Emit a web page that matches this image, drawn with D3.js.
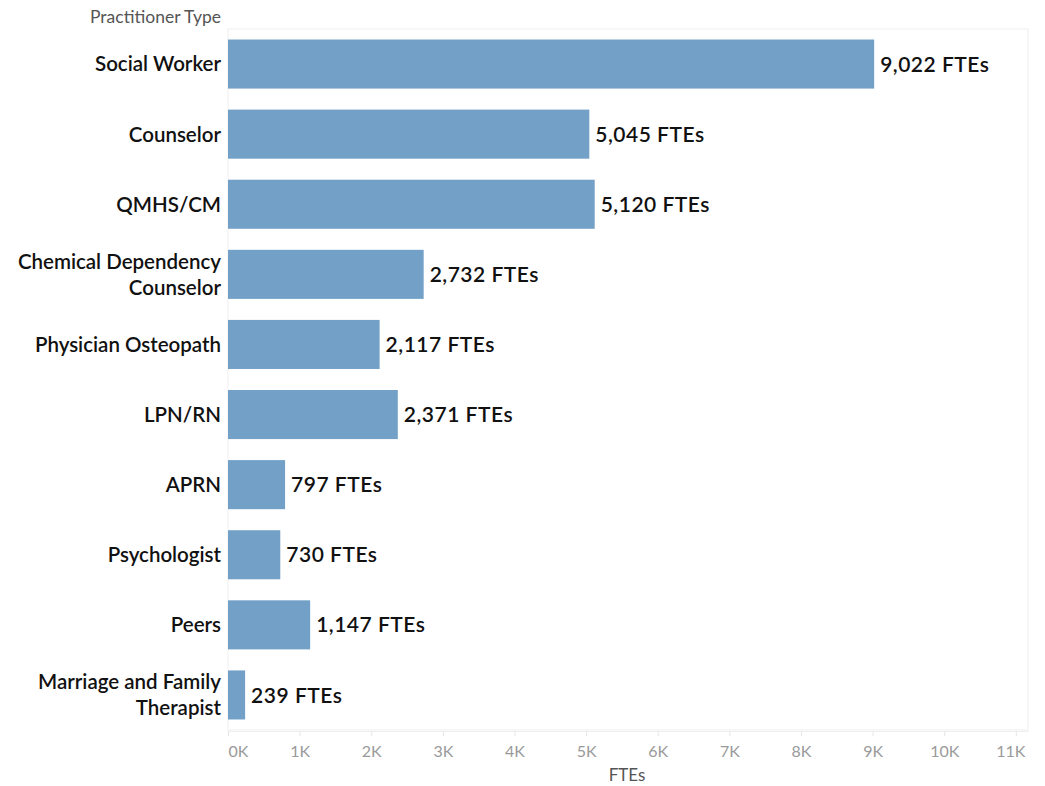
<!DOCTYPE html>
<html>
<head>
<meta charset="utf-8">
<script src="https://cdn.jsdelivr.net/npm/d3@7"></script>
<style>
  html, body { margin: 0; padding: 0; background: #fff; }
  svg { display: block; font-family: Lato, "Open Sans", sans-serif; }
</style>
</head>
<body>
<svg id="chart" width="1045" height="786"></svg>
<script>
const categories = [
  "Social Worker", "Counselor", "QMHS/CM", "Chemical Dependency Counselor",
  "Physician Osteopath", "LPN/RN", "APRN", "Psychologist", "Peers",
  "Marriage and Family Therapist"
];
const categoryLines = [
  ["Social Worker"], ["Counselor"], ["QMHS/CM"], ["Chemical Dependency", "Counselor"],
  ["Physician Osteopath"], ["LPN/RN"], ["APRN"], ["Psychologist"], ["Peers"],
  ["Marriage and Family", "Therapist"]
];
const ftes = [9022, 5045, 5120, 2732, 2117, 2371, 797, 730, 1147, 239];
const tickValues = [0, 1000, 2000, 3000, 4000, 5000, 6000, 7000, 8000, 9000, 10000, 11000];
const tickLabels = ["0K", "1K", "2K", "3K", "4K", "5K", "6K", "7K", "8K", "9K", "10K", "11K"];
const axisMax = 11170;

const svg = d3.select("#chart");
const mLeft = 228, mRight = 1028, mTop = 29, mBottom = 730;

const x = d3.scaleLinear().domain([0, axisMax]).range([mLeft, mRight]);
const y = d3.scaleBand().domain(categories).range([mTop, mBottom]).paddingInner(0.3).paddingOuter(0.15);

// frame
svg.append("rect").attr("x", mLeft).attr("y", mTop).attr("width", mRight - mLeft).attr("height", mBottom - mTop)
  .attr("fill", "none").attr("stroke", "#efefef").attr("stroke-width", 1);

// bars
svg.append("g").selectAll("rect").data(categories).join("rect")
  .attr("x", x(0))
  .attr("y", d => y(d))
  .attr("width", (d, i) => x(ftes[i]) - x(0))
  .attr("height", y.bandwidth())
  .attr("fill", "#73a0c7");

// value labels
svg.append("g").selectAll("text").data(categories).join("text")
  .attr("x", (d, i) => x(ftes[i]) + 6)
  .attr("y", d => y(d) + y.bandwidth() / 2)
  .attr("dy", "0.36em")
  .attr("font-size", 21)
  .attr("font-weight", 600)
  .attr("letter-spacing", 0.5)
  .attr("fill", "#111")
  .text((d, i) => d3.format(",")(ftes[i]) + " FTEs");

// category labels
const cat = svg.append("g").selectAll("text").data(categories).join("text")
  .attr("text-anchor", "end")
  .attr("x", 221)
  .attr("y", d => y(d) + y.bandwidth() / 2)
  .attr("font-size", 20.5)
  .attr("font-weight", 600)
  .attr("fill", "#111");
cat.each(function(d, i) {
  const lines = categoryLines[i];
  const n = lines.length;
  d3.select(this).selectAll("tspan").data(lines).join("tspan")
    .attr("x", 221)
    .attr("dy", (l, j) => j === 0 ? ((0.36 - (n - 1) * 0.63) + "em") : "1.26em")
    .text(l => l);
});

// x axis
const axis = d3.axisBottom(x).tickValues(tickValues).tickFormat((d, i) => tickLabels[i]).tickSize(5).tickSizeOuter(0);
const gx = svg.append("g").attr("transform", `translate(0,${mBottom + 1})`).call(axis);
gx.select(".domain").attr("stroke", "#efefef");
gx.selectAll(".tick line").attr("stroke", "#e6e6e6");
gx.selectAll(".tick text").attr("fill", "#9a9a9a").attr("font-size", 16).attr("dy", "1.1em")
  .attr("font-family", "Lato, 'Open Sans', sans-serif")
  .attr("text-anchor", (d, i) => i === 0 ? "start" : (i === tickValues.length - 1 ? "end" : "middle"))
  .attr("dx", (d, i) => i === tickValues.length - 1 ? 9 : 0);

// axis titles
svg.append("text").attr("x", 627).attr("y", 775).attr("dy", "0.35em").attr("text-anchor", "middle")
  .attr("font-size", 17).attr("fill", "#555").text("FTEs");
svg.append("text").attr("x", 221).attr("y", 17).attr("dy", "0.35em").attr("text-anchor", "end")
  .attr("font-size", 17.5).attr("fill", "#555").text("Practitioner Type");
</script>
</body>
</html>
